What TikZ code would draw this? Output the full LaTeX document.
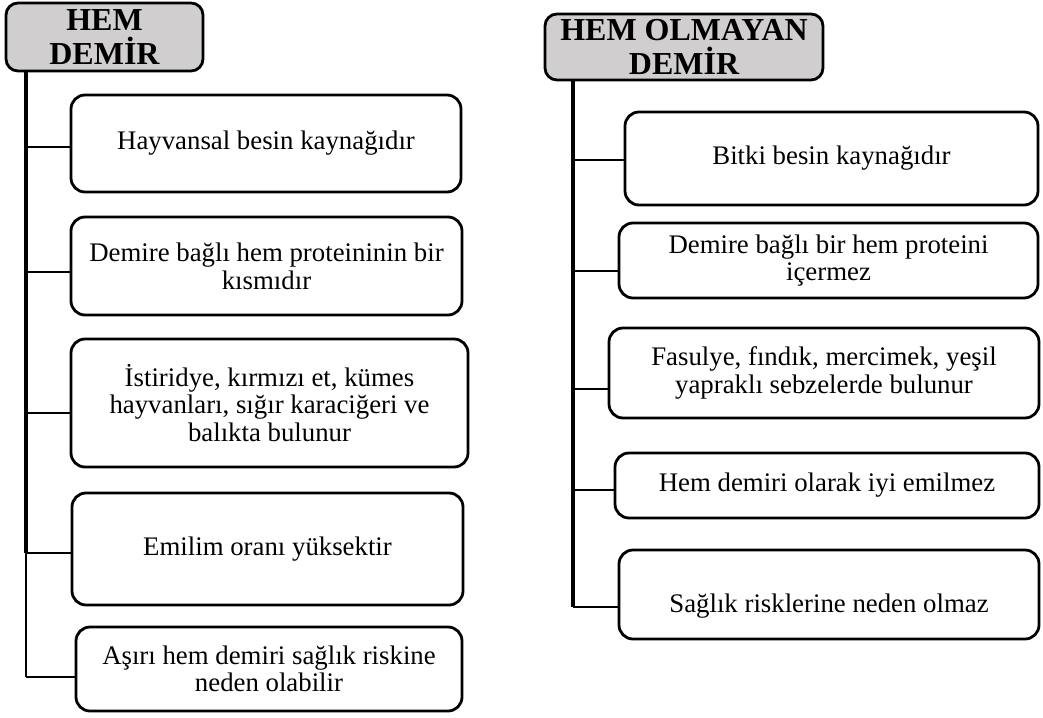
\documentclass[tikz,border=0pt]{standalone}
\usepackage{fontspec}
\setmainfont{Liberation Serif}
\definecolor{hdrgray}{RGB}{208,206,206}
\begin{document}
\begin{tikzpicture}[x=1pt,y=-1pt,
  hdr/.style={draw=black, line width=2.8pt, fill=hdrgray, rounded corners=12pt, inner sep=0pt,
    align=center, font=\fontsize{32}{34}\selectfont\bfseries},
  item/.style={draw=black, line width=2.8pt, rounded corners=14pt, inner sep=0pt,
    align=center, font=\fontsize{26.8}{27.6}\selectfont},
  trunk/.style={line width=3.2pt},
  branch/.style={line width=2.9pt},
  thinline/.style={line width=1.1pt}]
\useasboundingbox (0,0) rectangle (1043,717);

% left column
\node[hdr, minimum width=197pt, minimum height=68pt] (hL) at (104.5,37) {HEM\\DEMİR};
\node[item, minimum width=390pt, minimum height=97pt] (l1) at (266,143.5) {Hayvansal besin kaynağıdır};
\node[item, minimum width=391pt, minimum height=98pt] (l2) at (266.5,266) {\raisebox{-4pt}[\height][\depth]{\begin{tabular}{@{}c@{}}Demire bağlı hem proteininin bir\\kısmıdır\end{tabular}}};
\node[item, minimum width=397pt, minimum height=128pt] (l3) at (269.5,403) {İstiridye, kırmızı et, kümes\\hayvanları, sığır karaciğeri ve\\balıkta bulunur};
\node[item, minimum width=391pt, minimum height=112pt] (l4) at (267.5,549) {Emilim oranı yüksektir};
\node[item, minimum width=386pt, minimum height=84pt] (l5) at (269,669) {Aşırı hem demiri sağlık riskine\\neden olabilir};

\coordinate (jl1) at (26,147);
\coordinate (jl2) at (26,272);
\coordinate (jl3) at (26,413);
\coordinate (jl4) at (26,553);
\coordinate (jl5) at (26,677);

\draw[trunk] (hL.south -| jl1) -- (jl4);
\draw[thinline] (jl4) -- (jl5);
\draw[branch] (jl1) -- (l1.west |- jl1);
\draw[branch] (jl2) -- (l2.west |- jl2);
\draw[branch] (jl3) -- (l3.west |- jl3);
\draw[branch] (jl4) -- (l4.west |- jl4);
\draw[thinline] (jl5) -- (l5.west |- jl5);

% right column
\node[hdr, minimum width=278pt, minimum height=66pt] (hR) at (684,47) {HEM OLMAYAN\\DEMİR};
\node[item, minimum width=413pt, minimum height=93pt] (r1) at (831.5,158.5) {Bitki besin kaynağıdır};
\node[item, minimum width=419pt, minimum height=75pt] (r2) at (828.5,260.5) {Demire bağlı bir hem proteini\\içermez};
\node[item, minimum width=430pt, minimum height=90pt] (r3) at (824,373) {Fasulye, fındık, mercimek, yeşil\\yapraklı sebzelerde bulunur};
\node[item, minimum width=424pt, minimum height=65pt] (r4) at (827,485.5) {Hem demiri olarak iyi emilmez};
\node[item, minimum width=420pt, minimum height=89pt] (r5) at (829,594.5) {\raisebox{-12pt}[\height][\depth]{Sağlık risklerine neden olmaz}};

\coordinate (jr1) at (573,160);
\coordinate (jr2) at (573,271);
\coordinate (jr3) at (573,389);
\coordinate (jr4) at (573,490);
\coordinate (jr5) at (573,607);

\draw[trunk] (hR.south -| jr1) -- (jr5);
\draw[branch] (jr1) -- (r1.west |- jr1);
\draw[branch] (jr2) -- (r2.west |- jr2);
\draw[branch] (jr3) -- (r3.west |- jr3);
\draw[branch] (jr4) -- (r4.west |- jr4);
\draw[branch] (jr5) -- (r5.west |- jr5);
\end{tikzpicture}
\end{document}
